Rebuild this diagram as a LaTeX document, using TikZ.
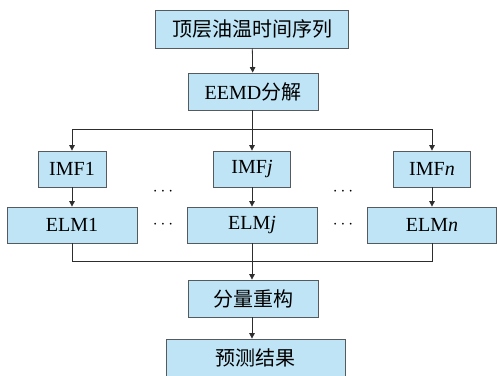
\documentclass[tikz,border=0pt]{standalone}
\usepackage{fontspec}
\setmainfont{Liberation Serif}
\newfontfamily\cjk{Noto Sans CJK SC}
\usetikzlibrary{arrows.meta}
\definecolor{boxfill}{RGB}{190,228,245}
\definecolor{boxedge}{RGB}{85,90,95}
\definecolor{wiredark}{RGB}{45,45,45}

\begin{document}
\begin{tikzpicture}[x=1pt,y=1pt,>={Triangle[length=5.5pt,width=5.5pt]}]
  % page of 497x375
  \useasboundingbox (0,0) rectangle (497,-375);
  \tikzset{
    flowbox/.style={draw=boxedge,fill=boxfill,line width=0.8pt,inner sep=0pt,
      font=\fontsize{20}{24}\selectfont},
    wire/.style={draw=wiredark,line width=0.8pt}
  }

  % --- Input and decomposition ---
  \node[flowbox,minimum width=193pt,minimum height=38pt] (src) at (252,-29) {\cjk 顶层油温时间序列};
  \node[flowbox,minimum width=130pt,minimum height=37pt] (eemd) at (253,-91.5) {EEMD\cjk 分解};

  % --- Component columns ---
  \node[flowbox,minimum width=68pt,minimum height=36pt] (imf1) at (72,-169) {IMF1};
  \node[flowbox,minimum width=77pt,minimum height=36pt] (imfj) at (252,-169) {IMF\textit{j}};
  \node[flowbox,minimum width=77pt,minimum height=36pt] (imfn) at (432,-169) {IMF\textit{n}};
  \node[flowbox,minimum width=130pt,minimum height=36pt] (elm1) at (72,-225) {ELM1};
  \node[flowbox,minimum width=130pt,minimum height=36pt] (elmj) at (252,-225) {ELM\textit{j}};
  \node[flowbox,minimum width=129pt,minimum height=36pt] (elmn) at (432,-225) {ELM\textit{n}};

  % ellipses between columns
  \foreach \X/\Y/\N in {163/-192/d1,163/-225/d2,343/-192/d3,343/-225/d4}
    \node[font=\fontsize{17}{19}\selectfont] (\N) at (\X,\Y) {$\cdots$};

  % --- Reconstruction and output ---
  \node[flowbox,minimum width=130pt,minimum height=37pt] (recon) at (253,-298.5) {\cjk 分量重构};
  \node[flowbox,minimum width=179pt,minimum height=38pt] (result) at (255.5,-358) {\cjk 预测结果};

  % bus points
  \coordinate (busL) at (72,-129);
  \coordinate (busM) at (252,-129);
  \coordinate (busR) at (432,-129);
  \coordinate (sumL) at (72,-261);
  \coordinate (sumM) at (252,-261);
  \coordinate (sumR) at (432,-261);

  % --- Connectors ---
  \draw[wire,->] (src) -- (eemd);
  \draw[wire] (eemd.south -| busM) -- (busM);
  \draw[wire] (busL) -- (busR);
  \foreach \B/\I/\E in {busL/imf1/elm1,busM/imfj/elmj,busR/imfn/elmn} {
    \draw[wire,->] (\B) -- (\I.north -| \B);
    \draw[wire,->] (\I.south -| \B) -- (\E.north -| \B);
  }
  \draw[wire] (elm1.south -| sumL) -- (sumL) -- (sumR) -- (elmn.south -| sumR);
  \draw[wire] (elmj.south -| sumM) -- (sumM);
  \draw[wire,->] (sumM) -- (recon.north -| sumM);
  \draw[wire,->] (recon.south -| sumM) -- (result.north -| sumM);

\end{tikzpicture}
\end{document}
